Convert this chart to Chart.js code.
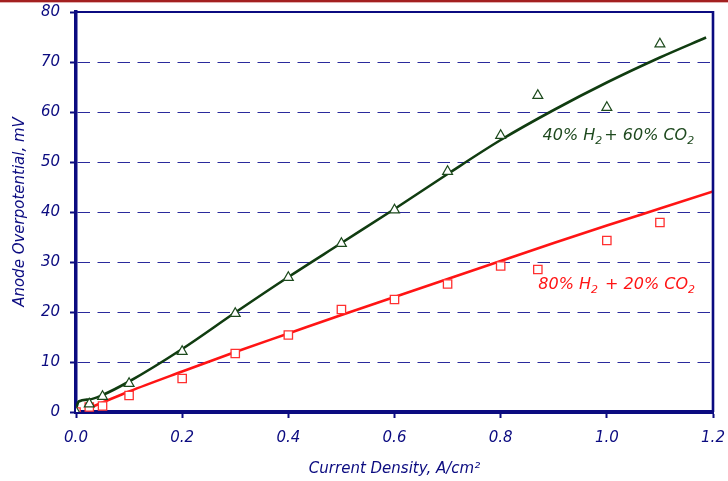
<!DOCTYPE html>
<html lang="en">
<head>
  <meta charset="UTF-8">
  <title>Anode Overpotential vs Current Density</title>
  <script src="https://cdn.jsdelivr.net/npm/chart.js"></script>
  <style>
    html, body { margin: 0; padding: 0; background: #fff; }
    canvas { display: block; }
  </style>
</head>
<body>

<canvas id="chart" width="728" height="481"></canvas>

<script>
  // measured points: current density (A/cm2) vs anode overpotential (mV)
  const density = [0, 0.025, 0.05, 0.1, 0.2, 0.3, 0.4, 0.5, 0.6, 0.7, 0.8, 0.87, 1.0, 1.1];
  const overpot40 = [0, 1.6, 3.1, 5.7, 12.1, 19.7, 26.9, 33.7, 40.4, 48.1, 55.3, 63.3, 60.9, 73.6];
  const overpot80 = [0, 1.0, 1.2, 3.3, 6.7, 11.7, 15.4, 20.5, 22.5, 25.6, 29.2, 28.5, 34.3, 37.9];

  // model curves
  const fitX40 = [0, 0.005, 0.025, 0.05, 0.1, 0.2, 0.3, 0.4, 0.5, 0.6, 0.7, 0.8, 0.9, 1.0, 1.1, 1.187];
  const fitY40 = [0.6, 2.1, 2.5, 3.4, 6.1, 12.6, 19.9, 27.0, 33.8, 40.6, 47.6, 54.4, 60.4, 65.9, 70.9, 74.9];
  const fitX80 = [0.025, 0.05, 0.1, 0.2, 0.3, 0.4, 0.5, 0.6, 0.7, 0.8, 0.9, 1.0, 1.1, 1.2];
  const fitY80 = [0.8, 1.9, 4.1, 8.1, 12.0, 15.7, 19.4, 23.0, 26.6, 30.2, 33.8, 37.3, 40.7, 44.1];

  // label pieces, odd entries are subscripts
  const label40 = ['40% H', '2', '+ 60% CO', '2'];
  const label80 = ['80% H', '2', ' + 20% CO', '2'];

  const xTitle = 'Current Density, A/cm²';
  const yTitle = 'Anode Overpotential, mV';

  const NAVY = '#0b0b80';
  const GREEN = '#103c10';
  const RED = '#ff1414';
  const FONT = "'DejaVu Sans', sans-serif";

  const pts = (xs, ys) => xs.map((x, i) => ({ x: x, y: ys[i] }));

  function drawChem(ctx, parts, x, y, color) {
    let cx = x;
    ctx.fillStyle = color;
    ctx.textBaseline = 'alphabetic';
    ctx.textAlign = 'left';
    parts.forEach((p, i) => {
      const sub = i % 2 === 1;
      ctx.font = (sub ? 'italic 11px ' : 'italic 16px ') + FONT;
      ctx.fillText(p, cx, sub ? y + 4 : y);
      cx += ctx.measureText(p).width + (sub ? 2 : 0);
    });
  }

  const decor = {
    id: 'decor',
    afterDraw(chart) {
      const { ctx, chartArea: a } = chart;
      const xs = chart.scales.x, ys = chart.scales.y;
      ctx.save();
      // dark red rule along the top
      ctx.fillStyle = '#a32020';
      ctx.fillRect(0, 0, chart.width, 2);
      ctx.fillStyle = 'rgba(190,80,80,0.45)';
      ctx.fillRect(0, 2, chart.width, 1);
      // top and right frame
      ctx.strokeStyle = NAVY;
      ctx.lineWidth = 2;
      ctx.beginPath();
      ctx.moveTo(a.left, a.top);
      ctx.lineTo(a.right, a.top);
      ctx.stroke();
      ctx.lineWidth = 2.6;
      ctx.beginPath();
      ctx.moveTo(a.right, a.top - 1);
      ctx.lineTo(a.right, a.bottom);
      ctx.stroke();
      // series labels
      drawChem(ctx, label40, xs.getPixelForValue(0.879), ys.getPixelForValue(54.5), '#1f4a1f');
      drawChem(ctx, label80, xs.getPixelForValue(0.871), ys.getPixelForValue(24.7), RED);
      ctx.restore();
    }
  };

  new Chart(document.getElementById('chart'), {
    type: 'scatter',
    data: {
      datasets: [
        {
          label: '40% H2 + 60% CO2',
          data: pts(density, overpot40),
          pointStyle: 'triangle',
          pointRadius: 5.7,
          borderColor: '#1c4a1c',
          backgroundColor: '#fff',
          borderWidth: 1.2,
          order: 0
        },
        {
          label: '80% H2 + 20% CO2',
          data: pts(density, overpot80),
          pointStyle: 'rect',
          pointRadius: 5.9,
          borderColor: '#ff3030',
          backgroundColor: '#fff',
          borderWidth: 1.3,
          order: 1
        },
        {
          label: 'fit 40',
          data: pts(fitX40, fitY40),
          showLine: true,
          pointRadius: 0,
          borderColor: GREEN,
          borderWidth: 2.6,
          cubicInterpolationMode: 'monotone',
          order: 2
        },
        {
          label: 'fit 80',
          data: pts(fitX80, fitY80),
          showLine: true,
          pointRadius: 0,
          borderColor: RED,
          borderWidth: 2.6,
          cubicInterpolationMode: 'monotone',
          order: 3
        }
      ]
    },
    options: {
      responsive: false,
      animation: false,
      devicePixelRatio: 1,
      layout: { padding: { top: 12, right: 15, left: 0, bottom: 0 } },
      plugins: { legend: { display: false }, tooltip: { enabled: false } },
      scales: {
        x: {
          type: 'linear',
          min: 0,
          max: 1.2,
          afterFit: s => { s.height = 69; s.paddingLeft = 0; s.paddingRight = 0; },
          ticks: {
            stepSize: 0.2,
            padding: 11,
            color: NAVY,
            font: { family: FONT, size: 15, style: 'italic' },
            callback: v => v.toFixed(1)
          },
          grid: { drawOnChartArea: false, tickLength: 6, tickWidth: 2, tickColor: NAVY, color: NAVY },
          border: { color: NAVY, width: 4 },
          title: {
            display: true,
            text: xTitle,
            color: NAVY,
            font: { family: FONT, size: 15, style: 'italic' },
            padding: { top: 0, bottom: 3 }
          }
        },
        y: {
          min: 0,
          max: 80,
          afterFit: s => { s.width = 76; s.paddingTop = 0; s.paddingBottom = 0; },
          ticks: {
            stepSize: 10,
            padding: 10,
            color: NAVY,
            font: { family: FONT, size: 15, style: 'italic' }
          },
          grid: { color: '#2a2a9c', lineWidth: 1, tickLength: 6, tickWidth: 2, tickColor: NAVY },
          border: { color: NAVY, width: 3.5, dash: [12.5, 7.5] },
          title: {
            display: true,
            text: yTitle,
            color: NAVY,
            font: { family: FONT, size: 15, style: 'italic' },
            padding: { top: 11, bottom: 0 }
          }
        }
      }
    },
    plugins: [decor]
  });
</script>

</body>
</html>
